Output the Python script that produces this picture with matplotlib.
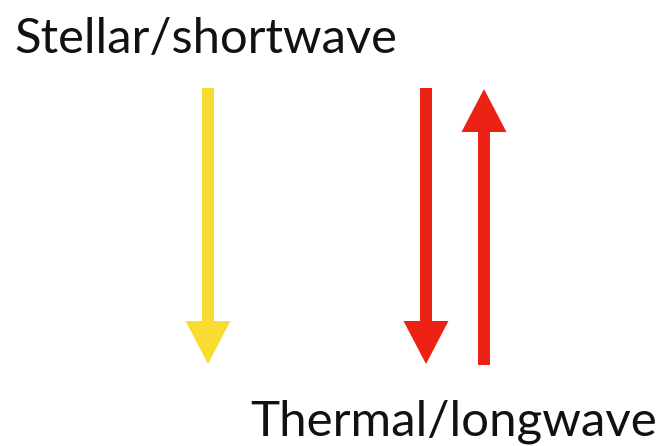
import matplotlib
matplotlib.use("Agg")
import matplotlib.pyplot as plt

# Arrow data (pixel coordinates of the diagram, y downward)
arrow_labels = ["stellar down", "thermal down", "thermal up"]
arrow_x = [208, 426, 484]
arrow_start = [88, 88, 365]
arrow_end = [364, 364, 89]
arrow_colors = ["#F8DC32", "#EC2314", "#EC2314"]

titles = ["Stellar/shortwave", "Thermal/longwave"]

fig = plt.figure(figsize=(6.62, 4.46), dpi=100)
ax = fig.add_axes([0, 0, 1, 1])
ax.set_xlim(0, 662)
ax.set_ylim(446, 0)
ax.axis("off")

for x, s, e, c in zip(arrow_x, arrow_start, arrow_end, arrow_colors):
    ax.arrow(x, s, 0, e - s, width=12, head_width=45, head_length=43,
             length_includes_head=True, color=c, lw=0)

ax.text(14, 53, titles[0], fontsize=35.3, family="Lato", ha="left", va="baseline", color="#111111")
ax.text(657, 435, titles[1], fontsize=35.5, family="Lato", ha="right", va="baseline", color="#111111")

fig.savefig("out.png", dpi=100)
